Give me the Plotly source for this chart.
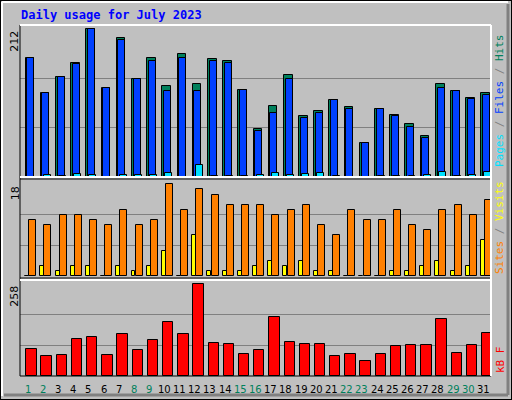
import plotly.graph_objects as go

days = list(range(1, 32))
weekend = [1, 2, 8, 9, 15, 16, 22, 23, 29, 30]

hits = [170, 120, 144, 164, 212, 128, 199, 141, 170, 130, 176, 134, 169, 166, 125, 69,
        102, 146, 88, 95, 111, 100, 49, 98, 89, 76, 59, 134, 124, 114, 121]
files = [170, 120, 144, 162, 212, 128, 196, 141, 167, 124, 170, 124, 167, 164, 125, 66,
         92, 140, 85, 92, 110, 98, 49, 97, 88, 72, 56, 128, 124, 112, 118]
pages = [0, 3, 1, 4, 3, 0, 3, 3, 3, 6, 0, 17, 1, 1, 1, 3,
         6, 3, 4, 6, 1, 0, 0, 1, 1, 1, 3, 7, 1, 3, 7]
visits = [11, 10, 12, 12, 11, 10, 13, 10, 11, 18, 13, 17, 16, 14, 14, 14,
          12, 13, 14, 10, 8, 13, 11, 11, 13, 10, 9, 13, 14, 12, 15]
sites = [0, 2, 1, 2, 2, 0, 2, 1, 2, 5, 0, 8, 1, 1, 1, 2,
         3, 2, 3, 1, 1, 0, 0, 0, 1, 1, 2, 3, 1, 2, 7]
kbytes = [77, 57, 60, 105, 111, 60, 117, 72, 100, 151, 117, 258, 94, 89, 63, 72,
          165, 97, 91, 89, 55, 63, 43, 63, 83, 86, 86, 159, 66, 86, 120]

W, H = 512, 400
bg = "#c0c0c0"
line = dict(color="black", width=1)

fig = go.Figure()

def bar(y, color, offset, width, ax):
    fig.add_trace(go.Bar(x=days, y=y, offset=offset, width=width,
                         marker=dict(color=color, line=line),
                         xaxis="x" + ax, yaxis="y" + ax, showlegend=False))

bar(hits, "#00805c", -0.13, 0.57, "")
bar(files, "#0040ff", -0.02, 0.46, "")
bar(pages, "#00e0ff", 0.07, 0.46, "")
bar(sites, "#ffff00", -0.16, 0.26, "2")
bar(visits, "#ff8000", 0.11, 0.46, "2")
bar(kbytes, "#ff0000", -0.09, 0.68, "3")

x0, x1 = 20 / W, 491 / W
panels = [("", 212, 218, 0.5575, 0.9375),
          ("2", 18, 18.85, 0.31, 0.55),
          ("3", 258, 270, 0.06, 0.30)]

lay = dict(width=W, height=H, margin=dict(l=0, r=0, t=0, b=0),
           paper_bgcolor=bg, plot_bgcolor=bg, barmode="overlay", bargap=0)
for ax, top, ymax, b, t in panels:
    lay["xaxis" + ax] = dict(domain=[x0, x1], range=[0.5, 31.5], showticklabels=False,
                             showgrid=False, zeroline=False, anchor="y" + ax)
    lay["yaxis" + ax] = dict(domain=[b, t], range=[0, ymax], tickvals=[top / 3, 2 * top / 3],
                             showticklabels=False, gridcolor="#808080", gridwidth=1,
                             zeroline=False, anchor="x" + ax)
fig.update_layout(**lay)

mono = "DejaVu Sans Mono"
ann = [dict(text="<b>Daily usage for July 2023</b>", x=19 / W, y=1 - 15 / H, xref="paper",
            yref="paper", xanchor="left", yanchor="middle", showarrow=False,
            font=dict(family=mono, size=12, color="#0000ff"))]
for (ax, top, ymax, b, t) in panels:
    ann.append(dict(text=str(top), x=15 / W, y=top, xref="paper", yref="y" + ax,
                    xanchor="center", yanchor="top", textangle=-90, showarrow=False,
                    font=dict(family="DejaVu Sans", size=11, color="black")))
rlab = [("<span style='color:#00e0ff'>Pages</span> / <span style='color:#0040ff'>Files</span>"
         " / <span style='color:#00805c'>Hits</span>", (0.5575 + 0.9375) / 2),
        ("<span style='color:#ff8000'>Sites</span> / <span style='color:#ffff00'>Visits</span>",
         (0.31 + 0.55) / 2),
        ("<span style='color:#ff0000'>kB F</span>", 0.10)]
for txt, yy in rlab:
    ann.append(dict(text=txt, x=500 / W, y=yy, xref="paper", yref="paper",
                    xanchor="center", yanchor="middle", textangle=-90, showarrow=False,
                    font=dict(family=mono, size=11, color="gray")))
for d in days:
    ann.append(dict(text=str(d), x=d, y=1 - 389 / H, xref="x3", yref="paper",
                    xanchor="center", yanchor="middle", showarrow=False,
                    font=dict(family="DejaVu Sans", size=10,
                              color="#00805c" if d in weekend else "black")))

shapes = [
    dict(type="rect", x0=0, x1=1, y0=0, y1=1, xref="paper", yref="paper",
         line=dict(color="black", width=2)),
    dict(type="line", x0=2 / W, x1=508 / W, y0=1 - 2 / H, y1=1 - 2 / H, xref="paper",
         yref="paper", line=dict(color="white", width=2)),
    dict(type="line", x0=2 / W, x1=2 / W, y0=4 / H, y1=1 - 2 / H, xref="paper",
         yref="paper", line=dict(color="white", width=2)),
    dict(type="line", x0=4 / W, x1=508 / W, y0=5 / H, y1=5 / H, xref="paper",
         yref="paper", line=dict(color="#808080", width=3)),
    dict(type="line", x0=508 / W, x1=508 / W, y0=5 / H, y1=1 - 4 / H, xref="paper",
         yref="paper", line=dict(color="#808080", width=3)),
    dict(type="rect", x0=x0, x1=x1, y0=0.06, y1=0.9375, xref="paper", yref="paper",
         line=dict(color="black", width=1)),
]
for yy in [0.5575, 0.30]:
    shapes.append(dict(type="line", x0=x0, x1=x1, y0=yy, y1=yy, xref="paper", yref="paper",
                       line=dict(color="white", width=2)))
for yy in [0.5525, 0.305]:
    shapes.append(dict(type="line", x0=x0, x1=x1, y0=yy, y1=yy, xref="paper", yref="paper",
                       line=dict(color="black", width=1)))
shapes.append(dict(type="line", x0=x0, x1=x1, y0=0.9375, y1=0.9375, xref="paper",
                   yref="paper", line=dict(color="white", width=2)))
shapes.append(dict(type="line", x0=x1, x1=x1, y0=0.06, y1=0.9375, xref="paper",
                   yref="paper", line=dict(color="white", width=2)))
fig.update_layout(annotations=ann, shapes=shapes)

fig.write_html("out.html", config={"displayModeBar": False},
               post_script="document.body.style.margin='0';document.body.style.overflow='hidden';")
